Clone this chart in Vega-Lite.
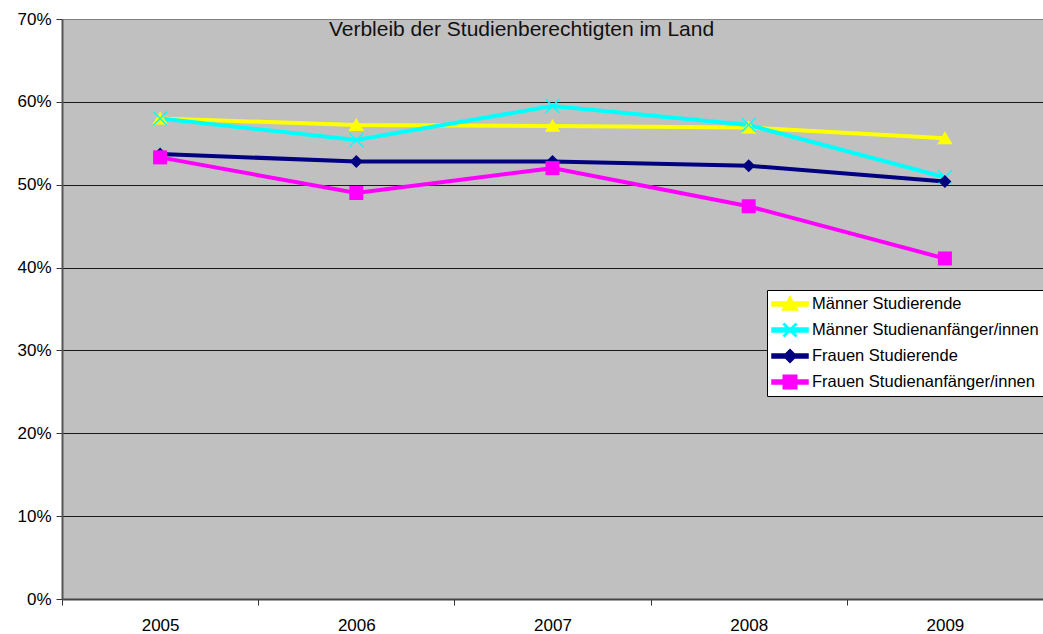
{
  "$schema": "https://vega.github.io/schema/vega-lite/v6.json",
  "width": 981,
  "height": 580,
  "autosize": {"type": "none"},
  "padding": {"left": 62, "top": 19, "right": 0, "bottom": 35},
  "background": "white",
  "config": {
    "view": {"fill": "#C0C0C0", "stroke": "#808080", "strokeWidth": 1},
    "font": "Liberation Sans",
    "legend": {
      "labelFont": "Liberation Sans",
      "labelFontSize": 16.5,
      "labelColor": "black",
      "labelLimit": 400,
      "fillColor": "white",
      "strokeColor": "black",
      "strokeWidth": 1,
      "padding": 4,
      "rowPadding": 6,
      "labelOffset": 21,
      "symbolSize": 324,
      "symbolOpacity": 1,
      "cornerRadius": 0
    }
  },
  "title": {
    "text": "Verbleib der Studienberechtigten im Land",
    "font": "Liberation Sans",
    "fontSize": 21,
    "fontWeight": "normal",
    "color": "#111",
    "anchor": "middle",
    "baseline": "top",
    "offset": -28,
    "dx": -31,
    "dy": 2
  },
  "data": {
    "values": [
      {"year": "2005", "series": "Männer Studierende", "value": 0.580},
      {"year": "2006", "series": "Männer Studierende", "value": 0.572},
      {"year": "2007", "series": "Männer Studierende", "value": 0.571},
      {"year": "2008", "series": "Männer Studierende", "value": 0.569},
      {"year": "2009", "series": "Männer Studierende", "value": 0.556},
      {"year": "2005", "series": "Männer Studienanfänger/innen", "value": 0.580},
      {"year": "2006", "series": "Männer Studienanfänger/innen", "value": 0.554},
      {"year": "2007", "series": "Männer Studienanfänger/innen", "value": 0.595},
      {"year": "2008", "series": "Männer Studienanfänger/innen", "value": 0.572},
      {"year": "2009", "series": "Männer Studienanfänger/innen", "value": 0.509},
      {"year": "2005", "series": "Frauen Studierende", "value": 0.537},
      {"year": "2006", "series": "Frauen Studierende", "value": 0.528},
      {"year": "2007", "series": "Frauen Studierende", "value": 0.528},
      {"year": "2008", "series": "Frauen Studierende", "value": 0.523},
      {"year": "2009", "series": "Frauen Studierende", "value": 0.504},
      {"year": "2005", "series": "Frauen Studienanfänger/innen", "value": 0.533},
      {"year": "2006", "series": "Frauen Studienanfänger/innen", "value": 0.490},
      {"year": "2007", "series": "Frauen Studienanfänger/innen", "value": 0.520},
      {"year": "2008", "series": "Frauen Studienanfänger/innen", "value": 0.474},
      {"year": "2009", "series": "Frauen Studienanfänger/innen", "value": 0.411}
    ]
  },
  "encoding": {
    "x": {
      "field": "year",
      "type": "ordinal",
      "scale": {"type": "band", "paddingInner": 0, "paddingOuter": 0},
      "axis": {
        "title": null,
        "labelAngle": 0,
        "tickBand": "extent",
        "tickSize": 6,
        "tickColor": "#333",
        "tickWidth": 1,
        "domainColor": "#444",
        "domainWidth": 2,
        "labelFont": "Liberation Sans",
        "labelFontSize": 17,
        "labelColor": "black",
        "labelPadding": 12,
        "grid": false
      }
    },
    "y": {
      "field": "value",
      "type": "quantitative",
      "scale": {"domain": [0, 0.7], "nice": false},
      "axis": {
        "title": null,
        "values": [0, 0.1, 0.2, 0.3, 0.4, 0.5, 0.6, 0.7],
        "format": ".0%",
        "labelFont": "Liberation Sans",
        "labelFontSize": 17,
        "labelColor": "black",
        "labelPadding": 5,
        "tickSize": 6,
        "tickColor": "#333",
        "domainColor": "#555",
        "domainWidth": 2,
        "grid": true,
        "gridColor": {"condition": {"test": "datum.value >= 0.7", "value": "#808080"}, "value": "#1a1a1a"},
        "gridOpacity": 1,
        "gridWidth": 1
      }
    },
    "color": {
      "field": "series",
      "type": "nominal",
      "scale": {
        "domain": ["Männer Studierende", "Männer Studienanfänger/innen", "Frauen Studierende", "Frauen Studienanfänger/innen"],
        "range": ["#FFFF00", "#00FFFF", "#000080", "#FF00FF"]
      },
      "legend": null
    }
  },
  "layer": [
    {
      "mark": {"type": "point", "filled": true, "opacity": 0},
      "encoding": {
        "color": {
          "field": "series",
          "type": "nominal",
          "legend": {"orient": "none", "legendX": 705, "legendY": 271, "title": null}
        },
        "shape": {
          "field": "series",
          "type": "nominal",
          "scale": {
            "domain": ["Männer Studierende", "Männer Studienanfänger/innen", "Frauen Studierende", "Frauen Studienanfänger/innen"],
            "range": [
              "M-1,-0.22H3V0.22H-1Z M1,-0.83L1.83,0.67H0.17Z",
              "M-1,-0.22H3V0.22H-1Z M0.28,-0.62L0.38,-0.72L1.72,0.62L1.62,0.72Z M1.62,-0.72L1.72,-0.62L0.38,0.72L0.28,0.62Z",
              "M-1,-0.22H3V0.22H-1Z M1,-0.72L1.72,0L1,0.72L0.28,0Z",
              "M-1,-0.22H3V0.22H-1Z M0.25,-0.75H1.75V0.75H0.25Z"
            ]
          },
          "legend": {"orient": "none", "legendX": 705, "legendY": 271, "title": null}
        }
      }
    },
    {"mark": {"type": "line", "strokeWidth": 4}},
    {
      "transform": [{"filter": "datum.series == 'Männer Studierende'"}],
      "mark": {"type": "point", "shape": "M0,-1L1.1,0.85H-1.1Z", "filled": true, "size": 196, "opacity": 1}
    },
    {
      "transform": [{"filter": "datum.series == 'Männer Studienanfänger/innen'"}],
      "mark": {"type": "point", "shape": "M-1,-1L1,1M1,-1L-1,1", "filled": false, "strokeWidth": 1.5, "size": 196, "opacity": 1}
    },
    {
      "transform": [{"filter": "datum.series == 'Frauen Studierende'"}],
      "mark": {"type": "point", "shape": "M0,-1L1,0L0,1L-1,0Z", "filled": true, "size": 169, "opacity": 1}
    },
    {
      "transform": [{"filter": "datum.series == 'Frauen Studienanfänger/innen'"}],
      "mark": {"type": "point", "shape": "square", "filled": true, "size": 196, "opacity": 1}
    }
  ]
}
